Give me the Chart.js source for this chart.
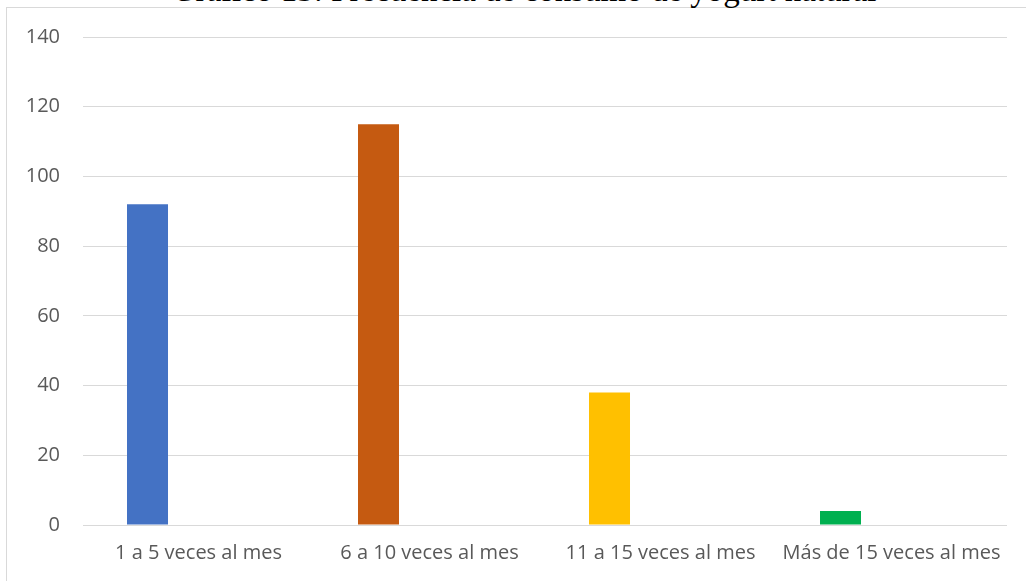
<!DOCTYPE html>
<html>
<head>
<meta charset="utf-8">
<script src="https://cdn.jsdelivr.net/npm/chart.js@4.4.1/dist/chart.umd.min.js"></script>
<style>
  html, body { margin: 0; padding: 0; background: #fff; overflow: hidden; }
  #wrap { position: relative; width: 1026px; height: 581px; }
  #frame {
    position: absolute; left: 6px; top: 7px; width: 1100px; height: 700px;
    border: 1px solid #d9d9d9; box-sizing: border-box;
  }
  #title {
    position: absolute; left: 11px; top: -26.5px; width: 1026px; text-align: center;
    font-family: "Liberation Serif", serif; font-size: 33px; line-height: 1; color: #000;
    white-space: nowrap;
  }
  #chartBox { position: absolute; left: 0; top: 0; width: 1026px; height: 581px; }
</style>
</head>
<body>
<div id="wrap">
  <div id="frame"></div>
  <div id="title">Gráfico 13: Frecuencia de consumo de yogurt natural</div>
  <div id="chartBox"><canvas id="js-chart-frecuencia"></canvas></div>
</div>
<script>
  // Chart data
  const categories = ['1 a 5 veces al mes', '6 a 10 veces al mes', '11 a 15 veces al mes', 'Más de 15 veces al mes'];
  const frequencyValues = [92, 115, 38, 4];
  const emptySeries = [null, null, null, null];
  const barColors = ['#4472C4', '#C55A11', '#FFC000', '#00B050'];
  const yMax = 140;
  const yStep = 20;

  // Global defaults
  Chart.defaults.font.family = '"Open Sans", sans-serif';
  Chart.defaults.font.size = 20;
  Chart.defaults.color = '#595959';

  let chartCon = document.getElementById('js-chart-frecuencia');

  let chartFrecuencia = new Chart(chartCon, {
    type: 'bar',
    data: {
      labels: categories,
      datasets: [
        {
          label: 'Frecuencia',
          data: frequencyValues,
          backgroundColor: barColors,
          borderWidth: 0
        },
        {
          label: 'Serie 2',
          data: emptySeries,
          backgroundColor: '#A5A5A5',
          borderWidth: 0
        }
      ]
    },
    options: {
      responsive: true,
      maintainAspectRatio: false,
      animation: false,
      categoryPercentage: 0.883,
      barPercentage: 0.402,
      layout: {padding: {top: 37, right: 19, bottom: 0, left: 0}},
      plugins: {
        legend: {display: false},
        tooltip: {enabled: false}
      },
      scales: {
        x: {
          grid: {display: false, drawTicks: false},
          border: {display: false},
          ticks: {padding: 16, maxRotation: 0, autoSkip: false},
          afterFit: scale => { scale.height = 56; }
        },
        y: {
          min: 0,
          max: yMax,
          grid: {color: '#d9d9d9', lineWidth: 1, drawTicks: false},
          border: {display: false},
          ticks: {stepSize: yStep, padding: 23},
          afterFit: scale => { scale.width = 83; }
        }
      }
    }
  });
</script>
</body>
</html>
